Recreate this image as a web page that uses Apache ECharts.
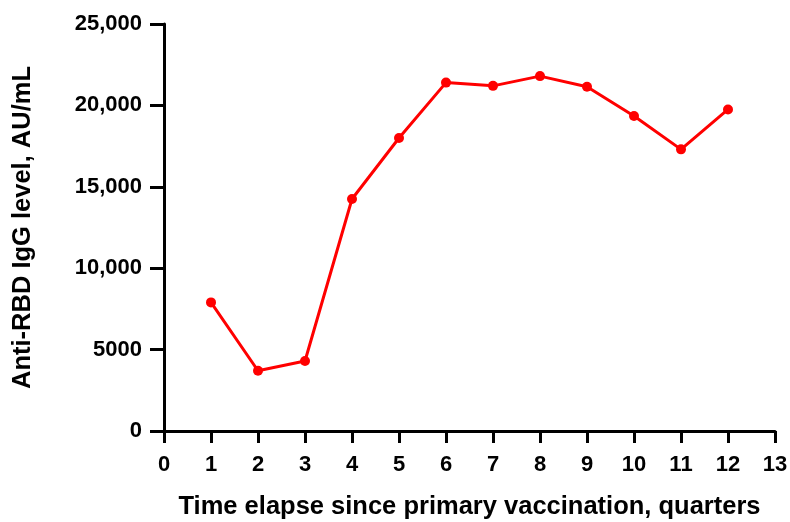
<!DOCTYPE html>
<html>
<head>
<meta charset="utf-8">
<script src="https://cdn.jsdelivr.net/npm/echarts@6/dist/echarts.min.js"></script>
<style>html,body{margin:0;padding:0;background:#fff}#c{width:790px;height:522px}</style>
</head>
<body>
<div id="c"></div>
<script>
const quarters = [1, 2, 3, 4, 5, 6, 7, 8, 9, 10, 11, 12];
const iggLevels = [7900, 3700, 4300, 14250, 18000, 21400, 21200, 21800, 21150, 19350, 17300, 19750];
const xTicks = [0, 1, 2, 3, 4, 5, 6, 7, 8, 9, 10, 11, 12, 13];
const yTickLabels = {0: '0', 5000: '5000', 10000: '10,000', 15000: '15,000', 20000: '20,000', 25000: '25,000'};
const xTitle = 'Time elapse since primary vaccination, quarters';
const yTitle = 'Anti-RBD IgG level, AU/mL';

const chart = echarts.init(document.getElementById('c'), null, {renderer: 'canvas'});
const arial = 'Liberation Sans, Arial, sans-serif';
chart.setOption({
  animation: false,
  backgroundColor: '#fff',
  grid: {left: 164, right: 15, top: 24, bottom: 91, containLabel: false, outerBoundsMode: 'none'},
  xAxis: {
    type: 'value', min: xTicks[0], max: xTicks[xTicks.length - 1], interval: 1,
    name: xTitle, nameLocation: 'middle', nameGap: 63,
    nameTextStyle: {fontFamily: arial, fontWeight: 'bold', fontSize: 25.5, color: '#000'},
    axisLine: {show: true, onZero: false, lineStyle: {color: '#000', width: 3}},
    axisTick: {show: true, length: 12, lineStyle: {color: '#000', width: 3}},
    axisLabel: {margin: 23, fontFamily: arial, fontWeight: 'bold', fontSize: 22, color: '#000'},
    splitLine: {show: false}
  },
  yAxis: {
    type: 'value', min: 0, max: 25000, interval: 5000,
    name: yTitle, nameLocation: 'middle', nameGap: 128, nameRotate: 90,
    nameTextStyle: {fontFamily: arial, fontWeight: 'bold', fontSize: 25.5, color: '#000'},
    axisLine: {show: true, lineStyle: {color: '#000', width: 3}},
    axisTick: {show: true, length: 14, lineStyle: {color: '#000', width: 3}},
    axisLabel: {margin: 22, fontFamily: arial, fontWeight: 'bold', fontSize: 22, color: '#000',
      formatter: v => yTickLabels[v] !== undefined ? yTickLabels[v] : String(v)},
    splitLine: {show: false}
  },
  series: [{
    type: 'line',
    data: quarters.map((q, i) => [q, iggLevels[i]]),
    symbol: 'circle', symbolSize: 10,
    lineStyle: {color: '#ff0000', width: 3},
    itemStyle: {color: '#ff0000'}
  }]
});
</script>
</body>
</html>
